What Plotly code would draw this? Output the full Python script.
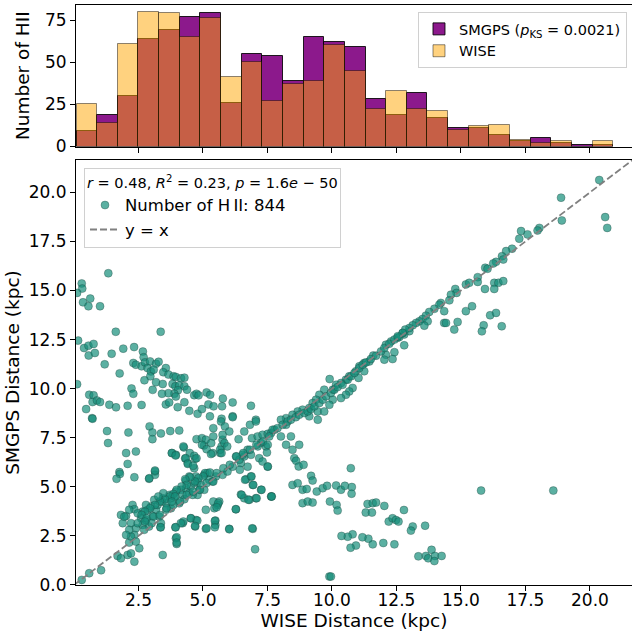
import plotly.graph_objects as go

# ---------------- data ----------------
bin_edges = [0.1, 0.9, 1.7, 2.5, 3.3, 4.1, 4.9, 5.7, 6.5, 7.3, 8.1, 8.9, 9.7, 10.5,
             11.3, 12.1, 12.9, 13.7, 14.5, 15.3, 16.1, 16.9, 17.7, 18.5, 19.3, 20.1, 20.9]
smgps_counts = [9, 19, 30, 64, 69, 77, 79, 26, 55, 54, 39, 65, 62, 59, 28, 19, 32, 17,
                11, 11, 7, 3, 5, 2, 1, 1]
wise_counts = [25, 14, 61, 80, 79, 65, 76, 41, 50, 27, 37, 39, 60, 45, 22, 33, 22, 21,
               10, 12, 13, 4, 2, 3, 0, 3]

points = [
    # upper-left branch
    (1.33,15.88),(0.30,15.36),(0.32,15.10),(0.12,14.88),(0.35,14.40),(0.63,14.59),(0.56,14.20),
    (1.01,14.20),(1.62,12.90),(3.36,12.90),(0.16,12.45),(0.39,12.07),(0.56,12.19),(0.76,12.28),
    (0.57,11.69),(0.81,11.82),(1.46,11.78),(1.91,12.04),(2.33,12.12),(2.67,11.89),(2.70,11.60),
    (1.19,11.24),(1.77,10.78),(2.30,11.31),(2.40,11.22),(2.62,11.14),(2.75,11.34),(2.95,11.39),
    (3.18,11.27),(3.28,11.37),(2.85,11.05),(2.98,10.88),(2.96,10.63),(3.09,10.97),(2.73,10.43),
    (3.18,10.33),(3.44,10.24),(3.56,11.05),(3.46,10.84),(3.66,10.72),(3.86,10.63),(3.95,10.60),
    (4.15,10.53),(4.28,10.56),(3.82,10.24),(3.93,10.12),(4.08,10.17),(4.28,10.12),(4.38,9.95),
    (4.03,9.92),(3.89,9.74),(3.95,9.60),(3.66,9.77),(3.41,9.74),(3.05,9.94),(2.23,10.01),
    (2.30,9.74),(0.59,9.69),(0.76,9.66),(0.72,9.32),(0.89,9.40),(1.01,9.32),(0.47,8.96),
    (0.70,8.50),(0.12,10.23),(1.37,9.18),(1.63,9.05),(2.08,9.13),(2.62,9.17),(3.56,9.20),
    (3.69,9.30),(4.02,9.06),(4.28,9.31),(4.66,9.67),(4.75,9.74),(4.83,9.66),(4.47,8.87),
    (4.79,8.72),(4.96,8.96),(5.14,9.81),(5.28,9.69),(5.21,9.20),(5.41,9.10),(5.27,8.59),
    (5.74,9.10),(5.77,9.50),(6.15,9.30),(6.15,8.59),(6.86,9.13),(5.72,8.47),(7.05,8.42),
    # lower-left region
    (0.72,8.47),(1.28,7.84),(1.32,7.23),(2.11,7.77),(2.02,6.72),(2.40,6.80),(2.08,6.17),
    (1.76,5.75),(1.78,5.66),(1.65,5.41),(2.34,5.49),(2.91,5.41),(3.14,5.78),(3.14,5.61),
    (2.93,8.08),(3.04,7.77),(3.04,7.43),(3.37,7.72),(3.73,7.84),(4.08,7.87),(3.80,6.72),
    (3.95,6.63),(4.26,7.01),(4.31,6.45),(4.49,6.72),(4.41,6.21),(4.66,5.95),(4.70,6.43),
    (4.75,7.43),(4.96,7.48),(5.04,7.11),(5.11,7.40),(5.32,7.23),(5.40,7.57),(5.40,7.99),
    (5.37,6.72),(5.67,6.72),(5.72,7.06),(5.76,7.40),(5.76,7.65),(5.83,7.23),(5.70,8.33),
    (5.85,8.08),(6.15,8.55),(6.02,7.82),(6.38,7.43),(6.60,7.82),(6.82,8.16),(7.05,8.33),
    (6.90,7.48),(7.12,7.57),(7.31,7.65),(7.51,7.70),(7.64,7.74),(7.25,7.23),(7.44,7.06),
    (7.48,6.75),(7.18,6.46),(7.51,6.03),(7.31,6.29),(6.60,6.55),(6.86,6.63),(6.47,6.21),
    (6.73,6.03),(6.28,6.55),(6.67,5.39),(6.86,5.53),(6.93,5.10),(7.25,4.85),(7.05,4.42),
    (7.64,4.51),(6.47,4.61),(6.60,4.42),(6.80,4.34),(6.28,3.86),(6.93,2.86),(7.02,1.82),
    (6.02,2.86),(5.63,4.25),(5.57,4.08),(5.44,3.91),(5.11,3.83),(5.11,2.86),(5.48,3.28),
    (5.48,3.06),(4.73,3.31),(4.70,2.98),(4.53,3.40),(4.21,3.15),(3.93,2.94),(3.95,2.38),
    (3.98,2.09),(3.44,1.53),(3.35,2.94),(0.59,0.60),(1.05,0.75),(0.30,0.26),(1.69,1.48),
    (1.82,1.36),(2.08,1.53),(2.34,1.19),(2.21,1.61),(2.14,2.16),(2.53,1.87),(1.82,3.57),
    (2.02,3.52),(2.27,4.08),(2.34,3.86),(2.66,3.74),(2.60,3.40),(2.21,3.15),(2.40,2.89),
    (2.34,2.55),(2.66,3.06),(2.79,3.31),(2.86,3.83),(2.99,4.00),(3.18,3.83),(3.05,3.52),
    (3.31,3.48),(3.37,3.15),(3.24,4.08),(3.41,4.25),(3.57,4.16),(3.76,4.42),(3.89,4.51),
    (3.95,4.76),(4.15,4.85),(4.21,4.59),(4.34,4.93),(4.47,4.68),(4.28,4.37),(4.53,5.02),
    (4.66,5.19),(4.79,5.27),(4.86,4.85),(4.92,5.10),(5.05,5.61),(5.18,5.70),(5.24,5.36),
    (5.37,5.27),(5.50,5.53),(5.05,4.85),(4.79,4.59),(4.60,4.59),(4.08,4.16),(3.76,3.91),
    (3.57,3.83),(4.34,5.32),(4.47,5.53),(4.73,5.53),(5.76,5.61),(5.95,5.78),(6.15,6.03),
    (6.41,6.38),(6.54,6.63),(6.73,6.89),(7.12,7.06),(2.91,2.98),(2.72,2.81),(2.21,2.47),
    (2.40,2.21),(2.14,2.81),(2.02,2.55),(1.89,3.15),(1.95,3.48),(2.14,3.83),(2.47,3.65),
    (2.47,3.15),(3.44,4.42),(3.70,4.59),(3.11,4.34),(2.79,4.08),
    # dense lower-left band (second reading)
    (4.24,7.06),(3.79,6.72),(3.94,6.60),(4.33,6.46),(4.66,6.58),(4.75,6.46),(4.41,6.17),
    (4.62,6.07),(4.96,7.14),(5.14,6.92),(5.31,6.67),(5.66,6.89),(5.72,6.72),(5.94,7.06),
    (3.14,5.83),(2.92,5.44),(5.08,5.70),(5.27,5.73),(5.01,5.53),(4.82,5.44),(4.69,5.27),
    (4.50,5.49),(4.31,5.39),(4.37,5.10),(4.17,5.02),(3.98,4.85),(3.85,4.64),(3.72,4.51),
    (3.53,4.37),(3.33,4.25),(3.14,4.08),(2.95,3.91),(2.75,3.74),(2.62,3.57),(2.82,3.40),
    (3.08,3.48),(3.33,3.57),(3.59,3.91),(3.85,4.08),(4.11,4.25),(4.37,4.59),(4.62,4.76),
    (4.88,4.85),(5.14,5.19),(5.40,5.27),(5.53,5.70),(5.79,5.95),(6.04,6.12),(6.30,6.55),
    (6.56,6.72),(6.82,6.89),(7.07,7.14),(7.33,7.31),(6.43,5.87),(6.63,5.36),(6.88,5.53),
    (6.95,5.10),(6.50,4.59),(6.76,4.34),(7.08,4.42),(7.66,4.51),(7.27,4.85),(5.40,4.25),
    (5.59,4.17),(5.53,3.96),(6.27,3.86),(5.46,3.26),(5.46,2.94),(5.14,2.89),(6.02,2.84),
    (6.91,2.89),(4.53,3.40),(4.78,3.28),(4.69,3.01),(4.24,3.23),(4.14,3.15),(3.94,2.94),
    (3.98,2.43),(3.98,2.16),(3.36,2.94),(3.01,3.15),(2.75,3.23),(3.92,4.51),(3.46,4.68),
    (3.79,4.25),(3.27,4.51),
    # middle region
    (13.00,12.93),(12.80,12.76),(12.54,12.59),(12.29,12.41),(12.09,12.24),(12.80,12.21),
    (12.42,11.86),(12.09,11.73),(12.03,11.48),(12.35,11.51),(11.60,11.69),(11.45,11.39),
    (11.25,11.31),(11.06,11.14),(11.25,10.89),(10.93,10.89),(11.03,10.55),(10.67,10.63),
    (10.54,10.46),(10.35,10.29),(10.16,10.20),(9.91,10.49),(10.80,10.04),(10.67,9.86),
    (10.54,9.69),(10.35,9.52),(10.03,9.44),(9.90,9.18),(9.70,9.95),(9.51,9.69),(9.38,9.44),
    (9.25,9.27),(9.12,9.01),(8.86,8.93),(8.67,8.84),(8.47,8.67),(8.22,8.50),(8.02,8.42),
    (9.45,8.84),(9.70,8.84),(9.45,8.42),(9.12,8.59),(10.03,9.95),(8.22,8.16),(7.77,7.91),
    (7.57,7.57),(7.51,7.14),(8.02,7.57),(8.41,7.57),(8.22,7.14),(8.73,7.14),(8.47,6.89),
    (8.54,6.46),(8.61,6.33),(8.71,6.04),(8.90,6.12),(7.51,6.04),(10.73,5.95),(9.19,5.56),
    (9.25,5.32),(8.47,5.10),(8.67,5.18),(8.86,4.85),(9.02,4.89),(9.41,4.76),(9.64,4.93),
    (9.81,5.05),(10.16,5.07),(10.35,4.85),(10.50,5.05),(10.77,4.99),(10.76,4.65),(7.66,4.51),
    (8.86,4.17),(9.06,4.25),(9.25,4.20),(9.92,4.25),(10.18,4.08),(10.22,3.79),(11.38,4.13),
    (11.58,4.17),(11.71,4.20),(12.03,4.03),(11.31,3.69),(11.55,3.69),(12.79,3.82),(12.20,3.23),
    (12.35,3.40),(12.48,3.31),(12.58,3.23),(13.13,2.98),(13.61,3.02),
    # middle diagonal band (second reading)
    (7.70,7.91),(7.89,7.99),(8.09,8.16),(8.28,8.33),(8.41,8.42),(8.60,8.55),(8.73,8.67),
    (8.93,8.76),(9.06,8.84),(9.19,8.96),(9.32,9.10),(9.51,9.27),(9.64,9.44),(9.77,9.61),
    (9.96,9.78),(10.09,9.95),(10.22,10.08),(10.41,10.20),(10.61,10.46),(10.74,10.63),
    (10.87,10.80),(11.06,11.05),(11.19,11.22),(11.32,11.34),(11.51,11.51),(11.71,11.68),
    (11.90,11.90),(12.03,12.07),(12.22,12.29),(12.42,12.50),(12.61,12.63),(12.74,12.84),
    # upper-right diagonal
    (20.36,20.63),(18.88,19.73),(18.91,18.57),(20.59,18.74),(20.67,18.19),(18.04,18.19),
    (17.97,18.06),(17.33,18.03),(17.58,17.86),(17.26,17.64),(16.98,17.13),(16.75,17.01),
    (16.59,16.75),(16.64,16.58),(16.36,16.46),(16.25,16.38),(15.94,16.16),(16.03,16.11),
    (15.65,15.68),(15.65,15.44),(15.93,15.08),(16.29,15.39),(16.45,15.39),(16.64,15.48),
    (16.29,15.08),(15.19,15.31),(15.32,15.39),(14.78,15.08),(14.83,14.88),(14.61,14.79),
    (14.55,14.50),(14.22,14.37),(14.16,14.28),(13.97,14.07),(13.77,13.91),(13.64,13.72),
    (13.51,13.55),(13.39,13.43),(13.26,13.35),(13.13,13.23),(13.00,13.09),(12.84,13.01),
    (12.74,12.84),(12.55,12.67),(13.71,13.43),(13.58,13.21),(14.35,13.95),(15.19,13.95),
    (15.43,14.20),(14.35,13.35),(14.42,13.35),(14.87,13.40),(14.74,13.01),(16.13,13.74),
    (16.36,13.86),(15.88,13.23),(15.81,12.92),(16.58,13.18),
    # lower-right region
    (15.78,4.81),(18.58,4.81),(13.35,1.46),(13.64,1.48),(13.73,1.36),(13.86,1.79),(13.99,1.48),
    (13.97,1.22),(14.25,1.48),(13.06,2.77),(9.90,0.43),(9.96,0.43),(12.42,2.07),(11.99,2.14),
    (11.58,2.07),(11.41,2.36),(11.18,2.43),(10.93,2.01),(10.72,1.90),(10.80,2.58),(10.61,2.46),
    (10.37,2.50),
]
wise_dist = [p[0] for p in points]
smgps_dist = [p[1] for p in points]

n_hii = 844
p_ks = "0.0021"
r_val, r2_val, p_txt = "0.48", "0.23", "1.6<i>e</i> \u2212 50"

# axis ranges
x_range = [0.078, 21.63]
y_range = [0.0, 21.65]
hist_range = [0, 84]

# ---------------- figure ----------------
centers = [(a + b) / 2 for a, b in zip(bin_edges[:-1], bin_edges[1:])]
widths = [b - a for a, b in zip(bin_edges[:-1], bin_edges[1:])]

FONT = "DejaVu Sans"
fig = go.Figure()

fig.add_trace(go.Bar(
    x=centers, y=smgps_counts, width=widths,
    marker=dict(color="rgba(128,0,128,0.9)", line=dict(color="rgba(0,0,0,0.85)", width=1)),
    name=f"SMGPS (<i>p</i><sub>KS</sub> = {p_ks})",
    xaxis="x", yaxis="y", legend="legend2"))
fig.add_trace(go.Bar(
    x=centers, y=wise_counts, width=widths,
    marker=dict(color="rgba(255,165,0,0.5)", line=dict(color="rgba(0,0,0,0.45)", width=1)),
    name="WISE", xaxis="x", yaxis="y", legend="legend2"))

fig.add_trace(go.Scatter(
    x=wise_dist, y=smgps_dist, mode="markers",
    marker=dict(size=8, color="rgba(22,142,122,0.7)",
                line=dict(color="rgba(30,60,55,0.55)", width=0.6)),
    name=f"Number of H\u2009II: {n_hii}",
    xaxis="x2", yaxis="y2", legend="legend"))
fig.add_trace(go.Scatter(
    x=[0, x_range[1] + 1], y=[0, x_range[1] + 1], mode="lines",
    line=dict(color="gray", width=1.8, dash="7px,3px"),
    name="y = x", xaxis="x2", yaxis="y2", legend="legend"))

axis_common = dict(showline=True, mirror=True, linecolor="black", linewidth=1,
                   ticks="outside", ticklen=5, tickwidth=1, tickcolor="black",
                   showgrid=False, zeroline=False,
                   tickfont=dict(family=FONT, size=17, color="black"))

fig.update_layout(
    width=632, height=634,
    margin=dict(l=76, r=0, t=5, b=49),
    paper_bgcolor="white", plot_bgcolor="white",
    font=dict(family=FONT, color="black"),
    barmode="overlay", bargap=0,
    xaxis=dict(domain=[0, 1], anchor="y", range=x_range, dtick=2.5, tick0=0,
               showticklabels=False, matches="x2", **axis_common),
    yaxis=dict(domain=[0.756, 1], anchor="x", range=hist_range, dtick=25, tick0=0,
               title=dict(text="Number of HII", font=dict(family=FONT, size=18.5), standoff=10),
               **axis_common),
    xaxis2=dict(domain=[0, 1], anchor="y2", range=x_range, dtick=2.5, tick0=0,
                tickformat=".1f", ticklabelstandoff=-5,
                title=dict(text="WISE Distance (kpc)", font=dict(family=FONT, size=18.5), standoff=2),
                **axis_common),
    yaxis2=dict(domain=[0, 0.7328], anchor="x2", range=y_range, dtick=2.5, tick0=0,
                tickformat=".1f",
                title=dict(text="SMGPS Distance (kpc)", font=dict(family=FONT, size=18.5), standoff=4),
                **axis_common),
    legend=dict(x=0.0144, y=0.719, xanchor="left", yanchor="top",
                bgcolor="white", bordercolor="#d0d0d0", borderwidth=1,
                font=dict(family=FONT, size=16.5), tracegroupgap=0,
                title=dict(text=f"<i>r</i> = {r_val}, <i>R</i><sup>2</sup> = {r2_val}, <i>p</i> = {p_txt}",
                           font=dict(family=FONT, size=14.5))),
    legend2=dict(x=0.991, y=0.988, xanchor="right", yanchor="top",
                 bgcolor="white", bordercolor="#d0d0d0", borderwidth=1,
                 font=dict(family=FONT, size=14.5)),
)

fig.write_html("out.html")
